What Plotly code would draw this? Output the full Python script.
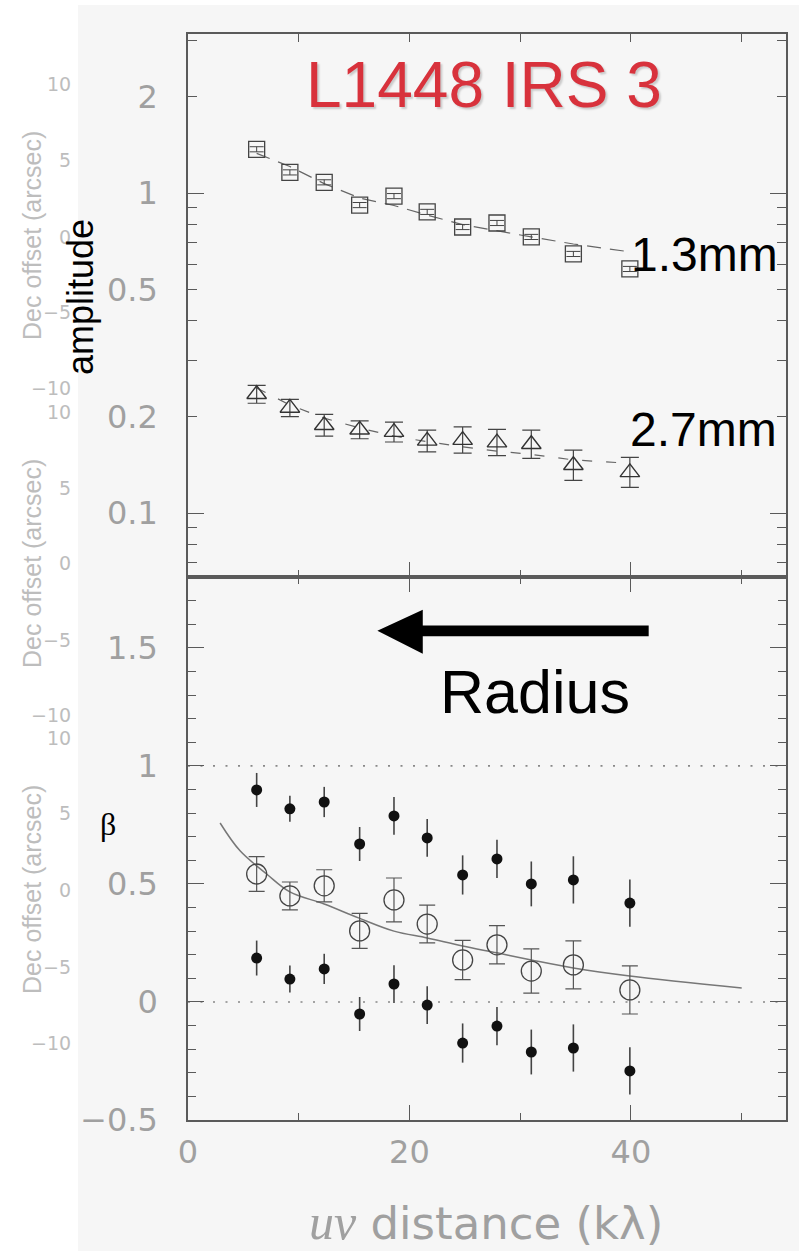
import plotly.graph_objects as go

# ---------------- data ----------------
uv = [6.2, 9.2, 12.3, 15.5, 18.6, 21.6, 24.8, 27.9, 31.0, 34.8, 39.9]

amp_13 = [1.37, 1.16, 1.08, 0.917, 0.978, 0.873, 0.783, 0.806, 0.729, 0.645, 0.579]
amp_13_err_dex = [0.008, 0.008, 0.008, 0.008, 0.008, 0.008, 0.008, 0.008, 0.008, 0.008, 0.008]
amp_13_model = [1.33, 1.21, 1.07, 0.965, 0.914, 0.853, 0.797, 0.761, 0.729, 0.693, 0.655]

amp_27 = [0.235, 0.213, 0.188, 0.182, 0.179, 0.168, 0.169, 0.166, 0.164, 0.141, 0.134]
amp_27_err_dex = [0.028, 0.027, 0.034, 0.028, 0.031, 0.034, 0.041, 0.041, 0.044, 0.047, 0.047]
amp_27_model = [0.246, 0.2175, 0.198, 0.1844, 0.174, 0.167, 0.161, 0.156, 0.1525, 0.1465, 0.143]

beta = [0.542, 0.449, 0.492, 0.301, 0.432, 0.330, 0.178, 0.242, 0.131, 0.157, 0.051]
beta_err = [0.074, 0.059, 0.068, 0.074, 0.093, 0.080, 0.083, 0.081, 0.094, 0.102, 0.102]
beta_hi = [0.898, 0.818, 0.847, 0.669, 0.788, 0.695, 0.538, 0.606, 0.500, 0.517, 0.419]
beta_hi_err = [0.072, 0.055, 0.064, 0.072, 0.080, 0.080, 0.083, 0.081, 0.095, 0.100, 0.100]
beta_lo = [0.186, 0.097, 0.140, -0.051, 0.076, -0.013, -0.174, -0.102, -0.212, -0.195, -0.292]
beta_lo_err = [0.074, 0.057, 0.064, 0.072, 0.080, 0.080, 0.083, 0.081, 0.095, 0.100, 0.100]

beta_model_uv = [2.9, 4.7, 7.1, 9.2, 12.3, 15.4, 18.6, 21.6, 24.8, 27.9, 31.0, 34.8, 39.9, 50.0]
beta_model = [0.758, 0.640, 0.542, 0.466, 0.415, 0.356, 0.300, 0.271, 0.237, 0.208, 0.178, 0.144, 0.110, 0.059]

amp_ticks = [0.1, 0.2, 0.5, 1, 2]
amp_minor = [0.07, 0.08, 0.09, 0.3, 0.4, 0.6, 0.7, 0.8, 0.9, 3]
amp_decades = [0.1, 1]
beta_ref_lines = [0, 1]
ghost_ticks = ["10", "5", "0", "\u22125", "\u221210"]

# ---------------- helpers ----------------
W, H = 799, 1251
L, R, T, B = 188, 13, 34, 131
PW, PH = W - L - R, H - T - B


def px(xp):
    return (xp - L) / PW


def py(yp):
    return (H - B - yp) / PH


def up_err(v, e):
    return [a * (10 ** d - 1) for a, d in zip(v, e)]


def dn_err(v, e):
    return [a * (1 - 10 ** (-d)) for a, d in zip(v, e)]


AX = '#5a5a5a'
LBL = '#a0a0a0'
GHOST = '#bdbdbd'

fig = go.Figure()

# upper panel
fig.add_trace(go.Scatter(x=uv, y=amp_13_model, mode='lines', xaxis='x', yaxis='y',
                         line=dict(color='#666', width=1.2, dash='14px,9px')))
fig.add_trace(go.Scatter(x=uv, y=amp_27_model, mode='lines', xaxis='x', yaxis='y',
                         line=dict(color='#666', width=1.2, dash='10px,14px')))
fig.add_trace(go.Scatter(x=uv, y=amp_13, mode='markers', xaxis='x', yaxis='y',
                         marker=dict(symbol='square-open', size=16, color='#444',
                                     line=dict(width=1.3, color='#444')),
                         error_y=dict(type='data', symmetric=False,
                                      array=up_err(amp_13, amp_13_err_dex),
                                      arrayminus=dn_err(amp_13, amp_13_err_dex),
                                      color='#444', thickness=1, width=7)))
fig.add_trace(go.Scatter(x=uv, y=amp_27, mode='markers', xaxis='x', yaxis='y',
                         marker=dict(symbol='triangle-up-open', size=17, color='#333',
                                     line=dict(width=1.4, color='#333')),
                         error_y=dict(type='data', symmetric=False,
                                      array=up_err(amp_27, amp_27_err_dex),
                                      arrayminus=dn_err(amp_27, amp_27_err_dex),
                                      color='#444', thickness=1.2, width=9)))

# lower panel
fig.add_trace(go.Scatter(x=beta_model_uv, y=beta_model, mode='lines', xaxis='x2', yaxis='y2',
                         line=dict(color='#777', width=1.5, shape='spline')))
fig.add_trace(go.Scatter(x=uv, y=beta, mode='markers', xaxis='x2', yaxis='y2',
                         marker=dict(symbol='circle-open', size=20, color='#444',
                                     line=dict(width=1.3, color='#444')),
                         error_y=dict(type='data', array=beta_err, color='#555',
                                      thickness=1.2, width=8)))
fig.add_trace(go.Scatter(x=uv, y=beta_hi, mode='markers', xaxis='x2', yaxis='y2',
                         marker=dict(symbol='circle', size=11, color='#111'),
                         error_y=dict(type='data', array=beta_hi_err, color='#444',
                                      thickness=1.6, width=0)))
fig.add_trace(go.Scatter(x=uv, y=beta_lo, mode='markers', xaxis='x2', yaxis='y2',
                         marker=dict(symbol='circle', size=11, color='#111'),
                         error_y=dict(type='data', array=beta_lo_err, color='#444',
                                      thickness=1.6, width=0)))

tickfont = dict(family='DejaVu Sans', size=32, color=LBL)
XR = [0, 54]

layout = dict(
    width=W, height=H,
    margin=dict(l=L, r=R, t=T, b=B, pad=0),
    paper_bgcolor='white', plot_bgcolor='rgba(0,0,0,0)',
    showlegend=False,
    xaxis=dict(domain=[0, 1], anchor='y', range=XR, showgrid=False, zeroline=False,
               showline=True, linecolor=AX, linewidth=1.5, mirror=True,
               ticks='inside', tickcolor=AX, ticklen=15, tickwidth=1.2, dtick=20, tick0=0,
               minor=dict(dtick=10, ticklen=7, ticks='inside', tickcolor=AX, tickwidth=1.2),
               showticklabels=False),
    xaxis3=dict(overlaying='x', anchor='y', side='top', range=XR, showgrid=False,
                zeroline=False, showline=False, ticks='inside', tickcolor=AX, ticklen=8,
                tickwidth=1.2, dtick=10, tick0=0, showticklabels=False),
    yaxis=dict(domain=[0.5, 1], anchor='x', type='log', range=[-1.2, 0.497],
               showgrid=False, zeroline=False, showline=True, linecolor=AX, linewidth=1.5,
               mirror='ticks', ticks='inside', tickcolor=AX, ticklen=9, tickwidth=1.2,
               tickmode='array', tickvals=amp_ticks, ticktext=[str(t) for t in amp_ticks],
               minor=dict(tickmode='array', tickvals=amp_minor, ticklen=9, ticks='inside',
                          tickcolor=AX, tickwidth=1.2),
               tickfont=tickfont, ticklabelstandoff=22),
    yaxis3=dict(overlaying='y', anchor='x', side='left', type='log', range=[-1.2, 0.497],
                showgrid=False, zeroline=False, showline=False, mirror='ticks',
                ticks='inside', tickcolor=AX, ticklen=16, tickwidth=1.2,
                tickmode='array', tickvals=amp_decades, showticklabels=False),
    xaxis2=dict(domain=[0, 1], anchor='y2', range=XR, showgrid=False, zeroline=False,
                showline=True, linecolor=AX, linewidth=1.5, mirror='ticks',
                ticks='inside', tickcolor=AX, ticklen=15, tickwidth=1.2, dtick=20, tick0=0,
                minor=dict(dtick=10, ticklen=7, ticks='inside', tickcolor=AX, tickwidth=1.2),
                tickfont=tickfont, ticklabelstandoff=3),
    yaxis2=dict(domain=[0, 0.5], anchor='x2', range=[-0.5, 1.8], showgrid=False,
                zeroline=False, showline=True, linecolor=AX, linewidth=1.5, mirror='ticks',
                ticks='inside', tickcolor=AX, ticklen=16, tickwidth=1.2, dtick=0.5, tick0=0,
                minor=dict(dtick=0.1, ticklen=8, ticks='inside', tickcolor=AX, tickwidth=1.2),
                tickfont=tickfont, ticklabelstandoff=22),
)
fig.update_layout(**layout)

# empty traces so the overlay axes are drawn
fig.add_trace(go.Scatter(x=[], y=[], xaxis='x3', yaxis='y', hoverinfo='skip'))
fig.add_trace(go.Scatter(x=[], y=[], xaxis='x', yaxis='y3', hoverinfo='skip'))

shapes = []
# gray page background
shapes.append(dict(type='rect', xref='paper', yref='paper', x0=px(78), x1=px(W + 5),
                   y0=py(H + 5), y1=py(5), fillcolor='#f6f6f6', line=dict(width=0),
                   layer='below'))
for v in beta_ref_lines:
    shapes.append(dict(type='line', xref='x2 domain', yref='y2', x0=0, x1=1, y0=v, y1=v,
                       line=dict(color='#888', width=1.6, dash='2px,10.5px'), layer='below'))
# arrow "Radius"
shapes.append(dict(type='path', xref='x2', yref='y2',
                   path='M 41.6,1.595 L 21.2,1.595 L 21.2,1.661 L 17.1,1.572 '
                        'L 21.2,1.475 L 21.2,1.549 L 41.6,1.549 Z',
                   fillcolor='black', line=dict(width=0)))
fig.update_layout(shapes=shapes)

ann = []


def text(t, xp, yp, size, color, family='Liberation Sans', angle=0, xanchor='center', **kw):
    ann.append(dict(text=t, x=px(xp), y=py(yp), xref='paper', yref='paper', showarrow=False,
                    xanchor=xanchor, yanchor='middle', textangle=angle,
                    font=dict(family=family, size=size, color=color, **kw)))


# ghost labels of the underlying panel
for centre, ys in [(236, [84, 160, 237, 312, 388]), (564, [412, 488, 563, 640, 715]),
                   (890, [738, 813, 890, 967, 1043])]:
    text('Dec offset (arcsec)', 32, centre, 25, GHOST, family='Liberation Sans', angle=-90)
    for t, yv in zip(ghost_ticks, ys):
        text(t, 73, yv, 19, GHOST, family='DejaVu Sans', xanchor='right')

text('L1448 IRS 3', 484, 85, 64, '#d8323c', shadow='2px 2px 2px rgba(0,0,0,0.18)')
text('1.3mm', 704, 254, 48, 'black')
text('2.7mm', 703, 430, 48, 'black')
text('Radius', 535, 692, 61, 'black')
text('amplitude', 80, 297, 36, 'black', angle=-90)
text('\u03b2', 108, 824, 32, 'black', family='Liberation Serif')
text('<span style="font-family:Liberation Serif;font-size:50px"><i>uv</i></span> distance (k\u03bb)',
     486, 1222, 45, LBL, family='DejaVu Sans')
fig.update_layout(annotations=ann)

fig.write_html('out.html')
